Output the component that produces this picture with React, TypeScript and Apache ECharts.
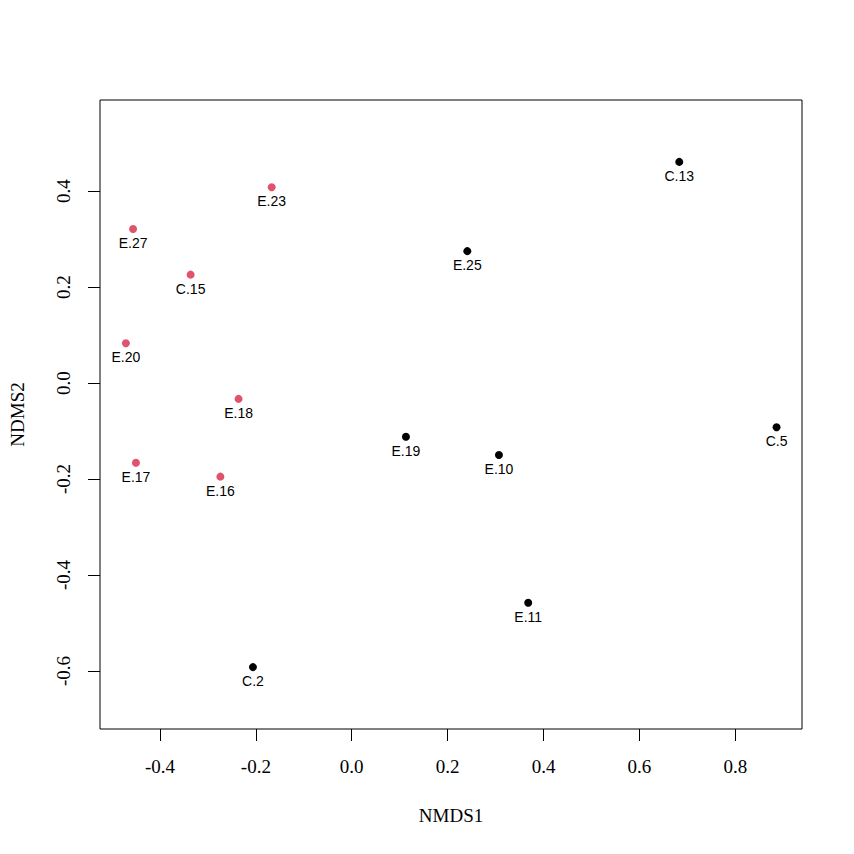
import React, { useEffect, useRef } from "react";
import * as echarts from "echarts";

const sampleNames = ["C.13", "C.5", "E.25", "E.19", "E.10", "E.11", "C.2", "E.23", "E.27", "C.15", "E.20", "E.18", "E.17", "E.16"];
const nmds1 = [0.683, 0.886, 0.241, 0.113, 0.307, 0.368, -0.206, -0.167, -0.456, -0.336, -0.471, -0.236, -0.450, -0.274];
const nmds2 = [0.461, -0.092, 0.275, -0.112, -0.150, -0.458, -0.592, 0.408, 0.321, 0.226, 0.083, -0.033, -0.166, -0.195];
const groups = [1, 1, 1, 1, 1, 1, 1, 2, 2, 2, 2, 2, 2, 2];
const xTicks = [-0.4, -0.2, 0.0, 0.2, 0.4, 0.6, 0.8];
const yTicks = [-0.6, -0.4, -0.2, 0.0, 0.2, 0.4];

const groupColors: Record<number, string> = { 1: "#000000", 2: "#DF536B" };

export default function App() {
  const ref = useRef<HTMLDivElement>(null);
  useEffect(() => {
    if (!ref.current) return;
    const chart = echarts.init(ref.current, null, { renderer: "svg" });
    const makeSeries = (g: number) => ({
      type: "scatter",
      symbol: "circle",
      symbolSize: 8,
      itemStyle: { color: groupColors[g], opacity: 1 },
      label: {
        show: true,
        position: "bottom",
        distance: 3,
        formatter: (p: any) => p.data[2],
        fontFamily: "Liberation Sans, Arial, sans-serif",
        fontSize: 14,
        color: "#000",
      },
      data: sampleNames
        .map((n, i) => [nmds1[i], nmds2[i], n, groups[i]])
        .filter((d) => d[3] === g),
    });
    const serif = "Liberation Serif, Times New Roman, serif";
    chart.setOption({
      animation: false,
      backgroundColor: "#ffffff",
      grid: {
        left: 100,
        top: 100,
        width: 702,
        height: 629,
        show: true,
        borderColor: "#000",
        borderWidth: 1,
        backgroundColor: "transparent",
      },
      xAxis: {
        type: "value",
        min: -0.525,
        max: 0.939,
        position: "bottom",
        name: "NMDS1",
        nameLocation: "middle",
        nameGap: 77,
        nameTextStyle: { fontFamily: serif, fontSize: 19, color: "#000" },
        axisLine: { show: false, onZero: false },
        splitLine: { show: false },
        axisTick: {
          show: true,
          inside: false,
          length: 12,
          lineStyle: { color: "#000" },
          customValues: xTicks,
        },
        axisLabel: {
          margin: 28,
          fontFamily: serif,
          fontSize: 19,
          color: "#000",
          customValues: xTicks,
          formatter: (v: number) => v.toFixed(1),
        },
      },
      yAxis: {
        type: "value",
        min: -0.721,
        max: 0.59,
        position: "left",
        name: "NDMS2",
        nameLocation: "middle",
        nameGap: 73,
        nameRotate: 90,
        nameTextStyle: { fontFamily: serif, fontSize: 19, color: "#000" },
        axisLine: { show: false, onZero: false },
        splitLine: { show: false },
        axisTick: {
          show: true,
          inside: false,
          length: 12,
          lineStyle: { color: "#000" },
          customValues: yTicks,
        },
        axisLabel: {
          margin: 27,
          rotate: 90,
          fontFamily: serif,
          fontSize: 19,
          color: "#000",
          customValues: yTicks,
          formatter: (v: number) => v.toFixed(1),
        },
      },
      series: [makeSeries(1), makeSeries(2)],
    });
    return () => chart.dispose();
  }, []);
  return <div ref={ref} style={{ width: 854, height: 854, position: "absolute", left: 0, top: 0 }} />;
}
